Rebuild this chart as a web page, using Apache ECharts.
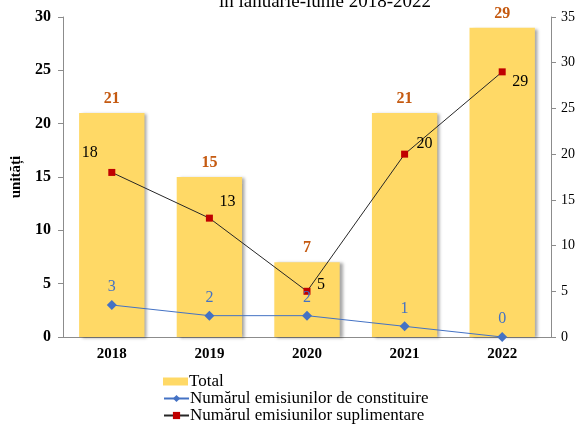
<!doctype html>
<html lang="ro">
 <head>
  <meta charset="UTF-8">
  <style type="text/css">
  html,body{margin:0;padding:0;background:#fff;}
  #ecm1{width:578px;height:424px;}
  </style>
  <script src="https://cdn.jsdelivr.net/npm/echarts@6/dist/echarts.min.js"></script>
  <title>Emisiuni</title>
 </head>
 <body>
    <div id="ecm1"></div>
    <script type="text/javascript">
    // date
    var ani = ["2018", "2019", "2020", "2021", "2022"];
    var total = [21, 15, 7, 21, 29];
    var constituire = [3, 2, 2, 1, 0];
    var suplimentare = [18, 13, 5, 20, 29];
    var stangaTicks = [0, 5, 10, 15, 20, 25, 30];
    var dreaptaTicks = [0, 5, 10, 15, 20, 25, 30, 35];
    // pozitia etichetelor pentru seria suplimentara
    var pozSupl = [[-22, -20], [18, -16], [14, -6], [20, -10], [18, 10]];

    var font = '"Liberation Serif", "Times New Roman", serif';
    var myChart = echarts.init(document.getElementById('ecm1'));

    var suplData = [];
    for (var i = 0; i < suplimentare.length; i++) {
        suplData.push({
            value: suplimentare[i],
            label: {offset: pozSupl[i]}
        });
    }

    var legendNames = ['Total', 'Numărul emisiunilor de constituire', 'Numărul emisiunilor suplimentare'];
    var legende = [];
    for (var j = 0; j < legendNames.length; j++) {
        legende.push({
            left: 163,
            top: 373 + j * 17,
            itemWidth: 25,
            itemHeight: j == 0 ? 8 : 9,
            padding: 0,
            textStyle: {fontFamily: font, fontSize: 17, color: '#000', padding: [0, 0, 0, -4]},
            data: [j == 0 ? {name: legendNames[j], icon: 'rect'} : {name: legendNames[j]}]
        });
    }

    var option1 = {
        animation: false,
        textStyle: {fontFamily: font},
        title: {
            text: 'în ianuarie-iunie 2018-2022',
            left: 320,
            textAlign: 'center',
            top: -12,
            textStyle: {fontFamily: font, fontWeight: 'normal', fontSize: 19, color: '#000'}
        },
        grid: {left: 63, right: 26, top: 17, bottom: 87},
        legend: legende,
        xAxis: [{
            type: 'category',
            data: ani,
            axisLine: {lineStyle: {color: '#8c8c8c'}},
            axisTick: {lineStyle: {color: '#8c8c8c'}},
            axisLabel: {fontFamily: font, fontWeight: 'bold', fontSize: 15, color: '#000', margin: 10}
        }],
        yAxis: [{
            type: 'value',
            min: 0, max: 30, interval: 5,
            name: 'unități',
            nameLocation: 'middle',
            nameRotate: 90,
            nameGap: 37,
            nameTextStyle: {fontFamily: font, fontWeight: 'bold', fontSize: 15, color: '#000'},
            splitLine: {show: false},
            axisLine: {show: true, lineStyle: {color: '#8c8c8c'}},
            axisTick: {show: true, lineStyle: {color: '#8c8c8c'}},
            axisLabel: {fontFamily: font, fontWeight: 'bold', fontSize: 16, color: '#000', margin: 12}
        }, {
            type: 'value',
            min: 0, max: 35, interval: 5,
            position: 'right',
            splitLine: {show: false},
            axisLine: {show: true, lineStyle: {color: '#8c8c8c'}},
            axisTick: {show: true, lineStyle: {color: '#8c8c8c'}},
            axisLabel: {fontFamily: font, fontSize: 14, color: '#000', margin: 10}
        }],
        series: [{
            name: 'Total',
            type: 'bar',
            yAxisIndex: 0,
            barWidth: '67%',
            data: total,
            itemStyle: {
                color: '#FFD966',
                shadowColor: 'rgba(0,0,0,0.35)',
                shadowBlur: 3,
                shadowOffsetX: 3,
                shadowOffsetY: 1
            },
            label: {
                show: true,
                position: 'top',
                distance: 6,
                fontFamily: font, fontWeight: 'bold', fontSize: 16, color: '#C55A11'
            }
        }, {
            name: 'Numărul emisiunilor de constituire',
            type: 'line',
            yAxisIndex: 0,
            data: constituire,
            symbol: 'diamond',
            symbolSize: 10,
            lineStyle: {color: '#4472C4', width: 1},
            itemStyle: {color: '#4472C4'},
            label: {
                show: true,
                position: 'top',
                distance: 5,
                fontFamily: font, fontSize: 16, color: '#4472C4'
            }
        }, {
            name: 'Numărul emisiunilor suplimentare',
            type: 'line',
            yAxisIndex: 1,
            data: suplData,
            symbol: 'rect',
            symbolSize: 7,
            lineStyle: {color: '#262626', width: 1},
            itemStyle: {color: '#C00000'},
            label: {
                show: true,
                position: 'inside',
                fontFamily: font, fontSize: 16, color: '#000'
            }
        }]
    };
    myChart.setOption(option1);
    </script>
 </body>
</html>
